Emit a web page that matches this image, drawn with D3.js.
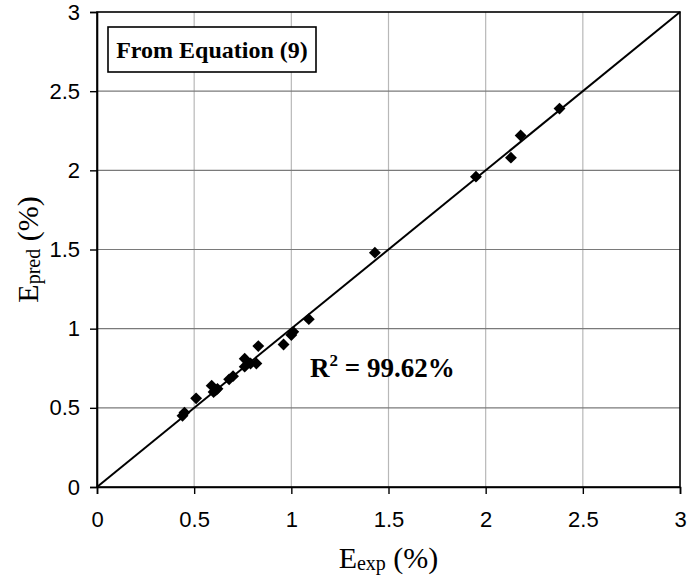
<!DOCTYPE html>
<html>
<head>
<meta charset="utf-8">
<script src="https://cdn.jsdelivr.net/npm/d3@7"></script>
<style>
  body { margin: 0; background: #fff; }
  svg { display: block; }
</style>
</head>
<body>
<div id="chart"></div>
<script>
var eExp  = [0.44, 0.45, 0.51, 0.59, 0.60, 0.61, 0.62, 0.68, 0.70, 0.76, 0.76, 0.79, 0.82, 0.83, 0.96, 1.00, 1.01, 1.09, 1.43, 1.95, 2.13, 2.18, 2.38];
var ePred = [0.45, 0.47, 0.56, 0.64, 0.60, 0.61, 0.62, 0.68, 0.70, 0.81, 0.76, 0.78, 0.78, 0.89, 0.90, 0.96, 0.98, 1.06, 1.48, 1.96, 2.08, 2.22, 2.39];
var ticks = [0, 0.5, 1, 1.5, 2, 2.5, 3];

var width = 692, height = 579;
var margin = {top: 12, right: 12, bottom: 92, left: 97};
var serif = "'Liberation Serif', 'Times New Roman', serif";

var svg = d3.select("#chart").append("svg")
    .attr("width", width)
    .attr("height", height);

var x = d3.scaleLinear().domain([0, 3]).range([margin.left, width - margin.right]);
var y = d3.scaleLinear().domain([0, 3]).range([height - margin.bottom, margin.top]);

// grid
svg.append("g").selectAll("line")
    .data(ticks.slice(1, -1))
    .enter().append("line")
    .attr("x1", d => x(d)).attr("x2", d => x(d))
    .attr("y1", y(0)).attr("y2", y(3))
    .attr("stroke", "#b8b8b8").attr("stroke-width", 1.2);

svg.append("g").selectAll("line")
    .data(ticks.slice(1, -1))
    .enter().append("line")
    .attr("x1", x(0)).attr("x2", x(3))
    .attr("y1", d => y(d)).attr("y2", d => y(d))
    .attr("stroke", "#7a7a7a").attr("stroke-width", 1.2);

// frame
svg.append("rect")
    .attr("x", x(0)).attr("y", y(3))
    .attr("width", x(3) - x(0)).attr("height", y(0) - y(3))
    .attr("fill", "none").attr("stroke", "#000").attr("stroke-width", 1.6);

// axes
var xAxis = svg.append("g")
    .attr("transform", "translate(0," + y(0) + ")")
    .call(d3.axisBottom(x).tickValues(ticks).tickSize(7).tickPadding(17).tickFormat(d3.format("")));
var yAxis = svg.append("g")
    .attr("transform", "translate(" + x(0) + ",0)")
    .call(d3.axisLeft(y).tickValues(ticks).tickSize(7).tickPadding(10).tickFormat(d3.format("")));

[xAxis, yAxis].forEach(function(a) {
    a.select(".domain").attr("stroke", "#000").attr("stroke-width", 1.6);
    a.selectAll(".tick line").attr("stroke", "#000").attr("stroke-width", 1.4);
    a.selectAll(".tick text")
        .attr("fill", "#000")
        .style("font-family", "Arial, 'Liberation Sans', sans-serif")
        .style("font-size", "22px");
});

// 1:1 line
svg.append("line")
    .attr("x1", x(0)).attr("y1", y(0))
    .attr("x2", x(3)).attr("y2", y(3))
    .attr("stroke", "#000").attr("stroke-width", 2);

// points
var pts = eExp.map((d, i) => [d, ePred[i]]);
svg.append("g").selectAll("path")
    .data(pts)
    .enter().append("path")
    .attr("d", d3.symbol().type(d3.symbolDiamond2).size(90))
    .attr("transform", d => "translate(" + x(d[0]) + "," + y(d[1]) + ")")
    .attr("fill", "#000");

// legend box
svg.append("rect")
    .attr("x", 108).attr("y", 27)
    .attr("width", 208).attr("height", 45)
    .attr("fill", "#fff").attr("stroke", "#000").attr("stroke-width", 1.6);
svg.append("text")
    .attr("x", 212).attr("y", 58)
    .attr("text-anchor", "middle")
    .style("font-family", serif)
    .style("font-weight", "bold")
    .style("font-size", "24px")
    .text("From Equation (9)");

// R squared
var r2 = svg.append("text")
    .attr("x", 310).attr("y", 377)
    .style("font-family", serif)
    .style("font-weight", "bold")
    .style("font-size", "27px");
r2.append("tspan").text("R");
r2.append("tspan").attr("dy", -11).style("font-size", "17px").text("2");
r2.append("tspan").attr("dy", 11).text(" = 99.62%");

// axis titles
var xt = svg.append("text")
    .attr("x", x(1.5)).attr("y", 568)
    .attr("text-anchor", "middle")
    .style("font-family", serif)
    .style("font-size", "30px");
xt.append("tspan").text("E");
xt.append("tspan").attr("dy", 2).style("font-size", "20px").text("exp");
xt.append("tspan").attr("dy", -2).text(" (%)");

var yt = svg.append("text")
    .attr("transform", "translate(38," + y(1.5) + ") rotate(-90)")
    .attr("text-anchor", "middle")
    .style("font-family", serif)
    .style("font-size", "30px");
yt.append("tspan").text("E");
yt.append("tspan").attr("dy", 2).style("font-size", "20px").text("pred");
yt.append("tspan").attr("dy", -2).text(" (%)");
</script>
</body>
</html>
